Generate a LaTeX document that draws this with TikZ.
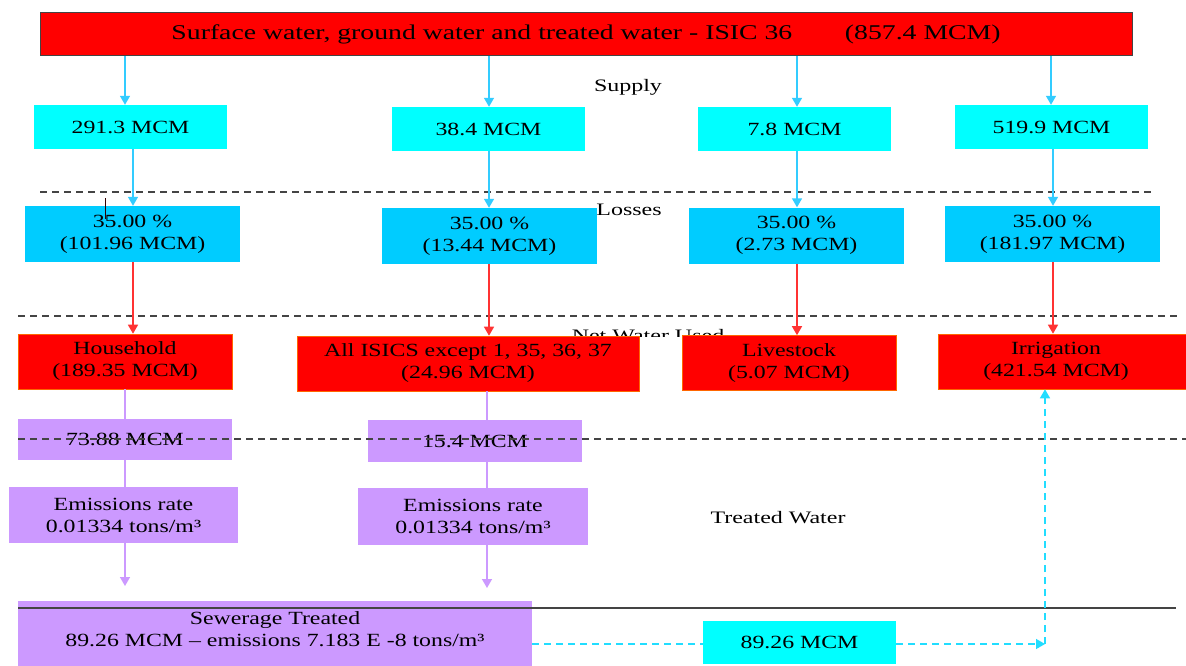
\documentclass[tikz,border=0pt]{standalone}
\usepackage{fontspec}
\setmainfont{Liberation Serif}
\usepackage{graphicx}
\usetikzlibrary{arrows.meta}
\definecolor{cyS}{HTML}{00FFFF}
\definecolor{blL}{HTML}{00CCFF}
\definecolor{cyArr}{HTML}{33CCFF}
\definecolor{redArr}{HTML}{FF3333}
\definecolor{pur}{HTML}{CC99FF}
\definecolor{cyDash}{HTML}{22DDFF}
\definecolor{dashGray}{HTML}{444444}
\newcommand{\sx}[1]{\scalebox{1.28}[1]{#1}}
\newcommand{\lx}[1]{\scalebox{1.37}[1]{#1}}
\newcommand{\tx}[1]{\scalebox{1.32}[1]{#1}}
\begin{document}
\begin{tikzpicture}[x=1pt,y=-1pt,
  bx/.style={inner sep=0pt, align=center, font=\fontsize{18.6}{22}\selectfont, text=black},
  supbox/.style={bx, fill=cyS, minimum width=193pt, minimum height=44pt},
  lossbox/.style={bx, fill=blL, minimum width=215pt, minimum height=56pt},
  netbox/.style={bx, fill=red, draw=orange!80!red, line width=0.6pt, minimum height=55pt},
  purbox/.style={bx, fill=pur},
  lbl/.style={inner sep=0pt, font=\fontsize{17.5}{20}\selectfont, text=black},
  tipT/.style={-{Triangle[width=10pt,length=9pt]}},
  cyarrow/.style={tipT, draw=cyArr, line width=1.4pt},
  redarrow/.style={tipT, draw=redArr, line width=1.4pt},
  purline/.style={draw=pur, line width=1.4pt},
  cydash/.style={draw=cyDash, line width=1.4pt, dash pattern=on 7pt off 5pt},
  divider/.style={draw=dashGray, line width=1.2pt, dash pattern=on 7pt off 5pt}]
\useasboundingbox (0,0) rectangle (1186,666);
\fill[white] (0,0) rectangle (1186,666);

% column x-coordinates
\coordinate (xa) at (125,0);
\coordinate (xb) at (133,0);
\coordinate (xc) at (489,0);
\coordinate (xd) at (797,0);
\coordinate (xe) at (1051,0);
\coordinate (xf) at (1053,0);
\coordinate (xg) at (487,0);

% clipped label under the net boxes
\begin{scope}
\clip (500,300) rectangle (800,336);
\node[lbl] (netlbl) at (648,336) {\lx{Net Water Used}};
\end{scope}

% top box
\node[bx, fill=red, draw=dashGray, line width=1pt, minimum width=1092pt, minimum height=43pt,
  font=\fontsize{21}{24}\selectfont] (top) at (586,34.5)
  {\tx{Surface water, ground water and treated water - ISIC 36\hspace{1.9em}(857.4 MCM)}};

% supply
\node[supbox] (s1) at (130.5,127) {\sx{291.3 MCM}};
\node[supbox] (s2) at (488.5,129) {\sx{38.4 MCM}};
\node[supbox] (s3) at (794.5,129) {\sx{7.8 MCM}};
\node[supbox] (s4) at (1051.5,127) {\sx{519.9 MCM}};
\node[lbl] (supl) at (628,87) {\lx{Supply}};

% losses
\node[lossbox] (l1) at (132.5,234) {\sx{35.00 \%}\\\sx{(101.96 MCM)}};
\node[lossbox] (l2) at (489.5,236) {\sx{35.00 \%}\\\sx{(13.44 MCM)}};
\node[lossbox] (l3) at (796.5,235.5) {\sx{35.00 \%}\\\sx{(2.73 MCM)}};
\node[lossbox] (l4) at (1052.5,234) {\sx{35.00 \%}\\\sx{(181.97 MCM)}};
\node[lbl] (lossl) at (629,210) {\lx{Losses}};

% net water used
\node[netbox, minimum width=214pt] (n1) at (125,361.5) {\sx{Household}\\\sx{(189.35 MCM)}};
\node[netbox, minimum width=342pt] (n2) at (468,363.5) {\sx{All ISICS except 1, 35, 36, 37}\\\sx{(24.96 MCM)}};
\node[netbox, minimum width=214pt] (n3) at (789,363) {\sx{Livestock}\\\sx{(5.07 MCM)}};
\node[netbox, minimum width=252pt] (n4) at (1064,361.5) {\sx{Irrigation}\kern16pt\\\sx{(421.54 MCM)}\kern16pt};

% treated
\node[purbox, minimum width=214pt, minimum height=41pt] (p1) at (125,439.5) {\sx{73.88 MCM}};
\node[purbox, minimum width=214pt, minimum height=42pt] (p2) at (475,441) {\sx{15.4 MCM}};
\node[purbox, minimum width=229pt, minimum height=56pt] (e1) at (123.5,515) {\sx{Emissions rate}\\\sx{0.01334 tons/m³}};
\node[purbox, minimum width=230pt, minimum height=57pt] (e2) at (473,516.5) {\sx{Emissions rate}\\\sx{0.01334 tons/m³}};
\node[lbl] (treatl) at (778,518) {\lx{Treated Water}};
\node[purbox, minimum width=514pt, minimum height=65pt] (sew) at (275,633.5)
  {\sx{Sewerage Treated}\\\sx{89.26 MCM -- emissions 7.183 E -8 tons/m³}\\[-13pt]\mbox{}};
\node[supbox, minimum height=43pt] (t89) at (799.5,642.5) {\sx{89.26 MCM}};

% divider lines
\coordinate (d1a) at (40,192);   \coordinate (d1b) at (1155,192);
\coordinate (d2a) at (18,316);   \coordinate (d2b) at (1180,316);
\coordinate (d3a) at (18,439);   \coordinate (d3b) at (1186,439);
\coordinate (d4a) at (18,608);   \coordinate (d4b) at (1176,608);
\draw[divider] (d1a) -- (d1b);
\draw[divider] (d2a) -- (d2b);
\draw[divider] (d3a) -- (d3b);
\draw[draw=dashGray, line width=1.2pt] (d4a) -- (d4b);

% small tick mark
\coordinate (tk1) at (105,198); \coordinate (tk2) at (105,219);
\draw[draw=black!80!red, line width=0.8pt] (tk1) -- (tk2);

% supply arrows
\draw[cyarrow] (xa |- top.south) -- (xa |- s1.north);
\draw[cyarrow] (xc |- top.south) -- (xc |- s2.north);
\draw[cyarrow] (xd |- top.south) -- (xd |- s3.north);
\draw[cyarrow] (xe |- top.south) -- (xe |- s4.north);

% to losses
\draw[cyarrow] (xb |- s1.south) -- (xb |- l1.north);
\draw[cyarrow] (xc |- s2.south) -- (xc |- l2.north);
\draw[cyarrow] (xd |- s3.south) -- (xd |- l3.north);
\draw[cyarrow] (xf |- s4.south) -- (xf |- l4.north);

% to net
\draw[redarrow] (xb |- l1.south) -- (xb |- n1.north);
\draw[redarrow] (xc |- l2.south) -- (xc |- n2.north);
\draw[redarrow] (xd |- l3.south) -- (xd |- n3.north);
\draw[redarrow] (xf |- l4.south) -- (xf |- n4.north);

% purple flow
\coordinate (end1) at (125,586);
\coordinate (end2) at (487,588);
\draw[purline] (xa |- n1.south) -- (xa |- p1.north);
\draw[purline] (xa |- p1.south) -- (xa |- e1.north);
\draw[purline, tipT] (xa |- e1.south) -- (end1);
\draw[purline] (xg |- n2.south) -- (xg |- p2.north);
\draw[purline] (xg |- p2.south) -- (xg |- e2.north);
\draw[purline, tipT] (xg |- e2.south) -- (end2);

% treated water return
\coordinate (ret) at (1045,644);
\draw[cydash] (sew.east |- ret) -- (t89.west |- ret);
\draw[cydash, tipT] (t89.east |- ret) -- (ret);
\draw[cydash, tipT] (ret) -- (ret |- n4.south);
\end{tikzpicture}
\end{document}
